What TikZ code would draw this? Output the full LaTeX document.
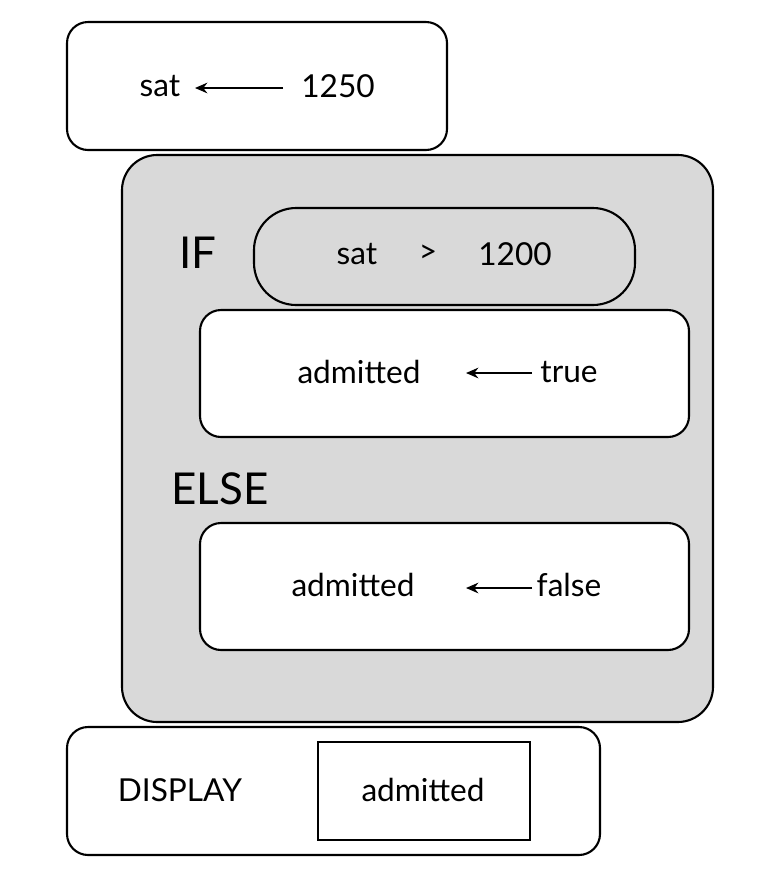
\documentclass[tikz,border=0pt]{standalone}
\usepackage{fontspec}
\setmainfont{Lato}
\usetikzlibrary{arrows.meta}
\definecolor{panel}{HTML}{D9D9D9}
\tikzset{
  box/.style={draw, line width=1.2pt, rounded corners=12pt},
  word/.style={font=\fontsize{18}{20}\selectfont, inner sep=1pt},
  key/.style={font=\fontsize{25}{28}\selectfont, inner sep=1pt},
  assign/.style={line width=1.4pt, -{Stealth[length=7pt,width=6pt]}}
}
\begin{document}
\begin{tikzpicture}[x=0.02cm, y=-0.02cm]
        \useasboundingbox (0,0) rectangle (770,880);

        % first assignment
        \draw[box] (67,22) rectangle (447,150);
        \node[word] (sat) at (160,86) {sat};
        \node[word] (val) at (338,86) {1250};
        \draw[assign] (283,88) -- (195,88);

        % if / else panel
        \draw[box, fill=panel, rounded corners=20pt] (122,155) rectangle (713,722);
        \node[key] (if) at (198,253) {IF};
        \draw[line width=1.2pt, fill=panel, rounded corners=24pt] (254,208) rectangle (635,305);
        \node[word] (lhs) at (357,254) {sat};
        \node[word] (op) at (428,254) {>};
        \node[word] (rhs) at (515,254) {1200};

        \draw[box, fill=white] (200,310) rectangle (689,437);
        \node[word] (adm1) at (359,372) {admitted};
        \node[word] (t) at (569,372) {true};
        \draw[assign] (532,373) -- (466,373);

        \node[key] (else) at (220,489) {ELSE};
        \draw[box, fill=white] (200,523) rectangle (689,650);
        \node[word] (adm2) at (353,585) {admitted};
        \node[word] (f) at (569,585) {false};
        \draw[assign] (532,588) -- (466,588);

        % output
        \draw[box] (67,727) rectangle (600,855);
        \node[word] (disp) at (180,790) {DISPLAY};
        \draw[line width=1.2pt] (318,742) rectangle (530,840);
        \node[word] (adm3) at (423,790) {admitted};
\end{tikzpicture}
\end{document}
